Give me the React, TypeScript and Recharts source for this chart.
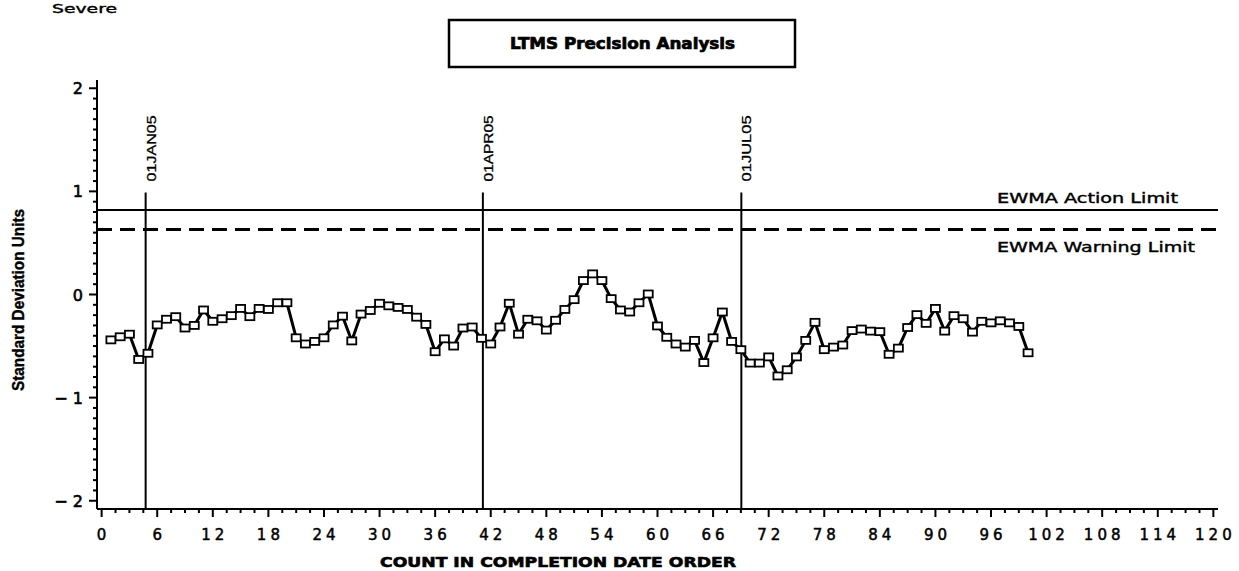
import React from 'react';
import { ComposedChart, Line, XAxis, YAxis, ReferenceLine } from 'recharts';

// Standard deviation units, in completion order (count 1..100)
const sdUnits: number[] = [
  -0.44, -0.41, -0.385, -0.63, -0.57, -0.295, -0.24, -0.215, -0.325, -0.3,
  -0.15, -0.26, -0.235, -0.205, -0.135, -0.215, -0.135, -0.145, -0.08, -0.08,
  -0.42, -0.48, -0.455, -0.42, -0.295, -0.21, -0.45, -0.19, -0.155, -0.085,
  -0.11, -0.125, -0.145, -0.22, -0.29, -0.555, -0.43, -0.5, -0.325, -0.315,
  -0.425, -0.48, -0.315, -0.085, -0.385, -0.24, -0.255, -0.345, -0.25, -0.145,
  -0.05, 0.135, 0.2, 0.135, -0.04, -0.15, -0.17, -0.08, 0.005, -0.305,
  -0.415, -0.48, -0.51, -0.445, -0.66, -0.42, -0.17, -0.455, -0.535, -0.665,
  -0.665, -0.605, -0.79, -0.73, -0.605, -0.445, -0.27, -0.535, -0.51, -0.49,
  -0.35, -0.335, -0.355, -0.36, -0.58, -0.52, -0.32, -0.195, -0.28, -0.135,
  -0.355, -0.205, -0.235, -0.365, -0.26, -0.275, -0.255, -0.275, -0.31, -0.565,
];

const dateMarkers: number[] = [4.75, 41.15, 69.05];
const dateLabels: string[] = ['01JAN05', '01APR05', '01JUL05'];
const dateLineTop = 0.99;

const actionLimit = 0.82;
const warningLimit = 0.63;

const xMajorTicks: number[] = [0, 6, 12, 18, 24, 30, 36, 42, 48, 54, 60, 66, 72, 78, 84, 90, 96, 102, 108, 114, 120];
const yMajorTicks: number[] = [-2, -1, 0, 1, 2];
const yTickLabels: string[] = ['\u2212 2', '\u2212 1', '0', '1', '2'];

const X_DOMAIN: [number, number] = [-0.5, 120.5];
const Y_DOMAIN: [number, number] = [-2.08, 2.08];

const data = sdUnits.map((v, i) => ({ count: i + 1, sd: v }));

// all tick positions (majors + minors) derived from axis settings
const xAllTicks: number[] = [];
for (let i = 0; i <= 80; i++) xAllTicks.push(Math.round(i * 15) / 10);
const yAllTicks: number[] = [];
for (let i = -20; i <= 20; i++) yAllTicks.push(i / 10);

const FONT = '"DejaVu Sans", Verdana, sans-serif';

const YTick = (props: any) => {
  const { x, y, payload } = props;
  const v = payload.value as number;
  const idx = yMajorTicks.findIndex((m) => Math.abs(m - v) < 1e-6);
  const major = idx >= 0;
  return (
    <g>
      <line x1={x} x2={x - (major ? 8 : 4)} y1={y} y2={y} stroke="#000" strokeWidth={2} />
      {major && (
        <text x={x - 14} y={y + 6} textAnchor="end" fontFamily={FONT} fontSize={16} fill="#000" stroke="#000" strokeWidth={0.6}>
          {yTickLabels[idx]}
        </text>
      )}
    </g>
  );
};

const XTick = (props: any) => {
  const { x, y, payload } = props;
  const v = payload.value as number;
  const major = xMajorTicks.some((m) => Math.abs(m - v) < 1e-6);
  return (
    <g>
      <line x1={x} x2={x} y1={y} y2={y + (major ? 8 : 4)} stroke="#000" strokeWidth={2} />
      {major && (
        <text x={x + 2} y={y + 31} textAnchor="middle" fontFamily={FONT} fontSize={15} letterSpacing={4} fill="#000" stroke="#000" strokeWidth={0.5}>
          {String(v)}
        </text>
      )}
    </g>
  );
};

const SquareDot = (props: any) => {
  const { cx, cy } = props;
  if (cx == null || cy == null) return null;
  return <rect x={cx - 4.5} y={cy - 3.5} width={9} height={7} fill="#fff" stroke="#000" strokeWidth={1.8} />;
};

const makeDateLabel = (text: string) => (props: any) => {
  const vb = props.viewBox || {};
  const x = (vb.x ?? 0) + 10;
  const y = (vb.y ?? 0) - 11;
  return (
    <text
      x={x}
      y={y}
      transform={`rotate(-90 ${x} ${y})`}
      textAnchor="start"
      fontFamily='"Liberation Sans Narrow", "Liberation Sans", sans-serif'
      fontSize={13}
      textLength={66}
      lengthAdjust="spacingAndGlyphs"
      fill="#000"
      stroke="#000"
      strokeWidth={0.3}
    >
      {text}
    </text>
  );
};

const LimitLabel = (text: string, dy: number, len: number) => (props: any) => {
  const vb = props.viewBox || {};
  return (
    <text
      x={997}
      y={(vb.y ?? 0) + dy}
      textAnchor="start"
      fontFamily={FONT}
      fontSize={14}
      textLength={len}
      lengthAdjust="spacingAndGlyphs"
      fill="#000"
      stroke="#000"
      strokeWidth={0.4}
    >
      {text}
    </text>
  );
};

export default function App() {
  return (
    <div style={{ position: 'absolute', left: 0, top: 0, width: 1239, height: 571, background: '#fff' }}>
      <ComposedChart
        width={1239}
        height={571}
        data={data}
        margin={{ top: 80, right: 21, bottom: 12, left: 7 }}
      >
        <XAxis
          dataKey="count"
          type="number"
          domain={X_DOMAIN}
          ticks={xAllTicks}
          interval={0}
          allowDataOverflow
          tickSize={0}
          tickMargin={0}
          tickLine={false}
          tick={<XTick />}
          axisLine={{ stroke: '#000', strokeWidth: 2 }}
          height={50}
        />
        <YAxis
          type="number"
          domain={Y_DOMAIN}
          ticks={yAllTicks}
          interval={0}
          allowDataOverflow
          tickSize={0}
          tickMargin={0}
          tickLine={false}
          tick={<YTick />}
          axisLine={{ stroke: '#000', strokeWidth: 2 }}
          width={90}
        />
        <ReferenceLine
          y={actionLimit}
          stroke="#000"
          strokeWidth={2}
          label={LimitLabel('EWMA Action Limit', -7, 181)}
        />
        <ReferenceLine
          y={warningLimit}
          stroke="#000"
          strokeWidth={3}
          strokeDasharray="15 8"
          label={LimitLabel('EWMA Warning Limit', 22, 198)}
        />
        {dateMarkers.map((d, i) => (
          <ReferenceLine
            key={dateLabels[i]}
            segment={[{ x: d, y: Y_DOMAIN[0] }, { x: d, y: dateLineTop }]}
            stroke="#000"
            strokeWidth={2}
            label={makeDateLabel(dateLabels[i])}
          />
        ))}
        <Line
          type="linear"
          dataKey="sd"
          stroke="#000"
          strokeWidth={3}
          dot={<SquareDot />}
          activeDot={false}
          isAnimationActive={false}
        />
      </ComposedChart>
      <svg
        width={1239}
        height={571}
        style={{ position: 'absolute', left: 0, top: 0, pointerEvents: 'none' }}
      >
        <text x={52} y={13} fontFamily={FONT} fontSize={13} textLength={65} lengthAdjust="spacingAndGlyphs" fill="#000" stroke="#000" strokeWidth={0.4}>
          Severe
        </text>
        <rect x={449} y={20} width={346} height={47} fill="none" stroke="#000" strokeWidth={2.5} />
        <text
          x={510}
          y={49}
          fontFamily={FONT}
          fontWeight="bold"
          fontSize={15}
          textLength={225}
          lengthAdjust="spacingAndGlyphs"
          fill="#000"
          stroke="#000"
          strokeWidth={0.7}
        >
          LTMS Precision Analysis
        </text>
        <text
          x={24}
          y={391}
          transform="rotate(-90 24 391)"
          fontFamily='"Liberation Sans Narrow", "Liberation Sans", sans-serif'
          fontWeight="bold"
          fontSize={16}
          textLength={182}
          lengthAdjust="spacingAndGlyphs"
          fill="#000"
          stroke="#000"
          strokeWidth={0.4}
        >
          Standard Deviation Units
        </text>
        <text
          x={380}
          y={567}
          fontFamily={FONT}
          fontWeight="bold"
          fontSize={14}
          textLength={356}
          lengthAdjust="spacingAndGlyphs"
          fill="#000"
          stroke="#000"
          strokeWidth={0.6}
        >
          COUNT IN COMPLETION DATE ORDER
        </text>
      </svg>
    </div>
  );
}
